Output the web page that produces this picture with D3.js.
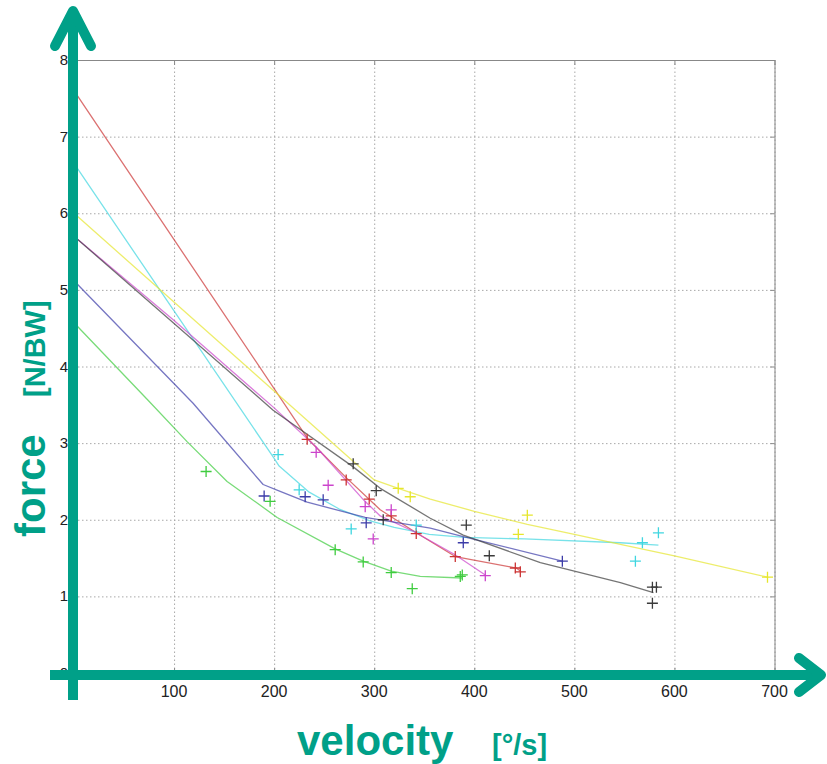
<!DOCTYPE html>
<html>
<head>
<meta charset="utf-8">
<script src="https://cdn.jsdelivr.net/npm/d3@7"></script>
<style>
    body { margin: 0; background: #fff; }
    svg { display: block; font-family: "Liberation Sans", Arial, sans-serif; }
    .grid line { stroke: #a8a8a8; stroke-dasharray: 1.5,2.5; }
    .grid path { display: none; }
</style>
</head>
<body>
<script>
//tick values
var xTicks = [100, 200, 300, 400, 500, 600, 700];
var yTicks = [0, 1, 2, 3, 4, 5, 6, 7, 8];

//series names and colours
var seriesNames = ["red", "cyan", "yellow", "magenta", "blue", "black", "green"];
var seriesColors = ["#cc3434", "#3fd6e0", "#e6e62c", "#cc44cc", "#3c3ca8", "#3a3a3a", "#3fcc3f"];

//fitted curves, [velocity, force]
var redCurve = [[0, 7.6], [234, 3.05], [272, 2.55], [306, 2.13], [342, 1.83], [381, 1.52], [442, 1.37], [446, 1.33]];
var cyanCurve = [[0, 6.65], [200, 2.8], [205, 2.7], [235, 2.36], [265, 2.14], [295, 1.99], [320, 1.9], [355, 1.81], [390, 1.77], [450, 1.75], [546, 1.7], [584, 1.67]];
var yellowCurve = [[0, 6.0], [300, 2.52], [324, 2.41], [356, 2.27], [400, 2.11], [453, 1.94], [500, 1.81], [546, 1.68], [600, 1.53], [693, 1.25]];
var magentaCurve = [[0, 5.7], [100, 4.6], [200, 3.46], [242, 2.95], [290, 2.25], [306, 2.05], [339, 1.85], [380, 1.55], [411, 1.28]];
var blueCurve = [[0, 5.12], [119, 3.52], [189, 2.46], [206, 2.37], [233, 2.23], [291, 2.03], [356, 1.89], [389, 1.78], [488, 1.46]];
var blackCurve = [[0, 5.7], [100, 4.56], [199, 3.43], [279, 2.69], [306, 2.41], [356, 2.02], [389, 1.8], [466, 1.44], [546, 1.18], [579, 1.05]];
var greenCurve = [[0, 4.57], [74, 3.56], [113, 3.02], [153, 2.5], [203, 2.03], [261, 1.62], [289, 1.46], [317, 1.33], [346, 1.26], [388, 1.24]];

//measured points, [velocity, force]
var redPts = [[233, 3.05], [272, 2.52], [295, 2.27], [317, 2.05], [342, 1.82], [381, 1.52], [441, 1.37], [446, 1.32]];
var cyanPts = [[204, 2.85], [225, 2.39], [277, 1.88], [342, 1.93], [568, 1.7], [561, 1.46], [584, 1.83]];
var yellowPts = [[324, 2.41], [336, 2.3], [453, 2.06], [444, 1.81], [693, 1.25]];
var magentaPts = [[242, 2.88], [254, 2.45], [291, 2.17], [317, 2.13], [299, 1.75], [411, 1.27]];
var bluePts = [[190, 2.31], [231, 2.3], [249, 2.26], [292, 1.96], [389, 1.7], [488, 1.46]];
var blackPts = [[279, 2.73], [302, 2.38], [309, 2.0], [392, 1.93], [415, 1.53], [578, 1.12], [582, 1.12], [578, 0.91]];
var greenPts = [[132, 2.63], [196, 2.24], [261, 1.61], [289, 1.45], [317, 1.31], [338, 1.1], [386, 1.26], [388, 1.28]];

var curves = [redCurve, cyanCurve, yellowCurve, magentaCurve, blueCurve, blackCurve, greenCurve];
var points = [redPts, cyanPts, yellowPts, magentaPts, bluePts, blackPts, greenPts];

function drawChart(){
    var width = 827,
        height = 764;
    var teal = "#00a088";

    var svg = d3.select("body")
        .append("svg")
        .attr("width", width)
        .attr("height", height);

    //plot frame
    var x = d3.scaleLinear().domain([0, 700]).range([74, 774.5]);
    var y = d3.scaleLinear().domain([0, 8]).range([673, 60]);

    //dotted grid
    svg.append("g")
        .attr("class", "grid")
        .attr("transform", "translate(0," + y(0) + ")")
        .call(d3.axisBottom(x).tickValues(xTicks).tickSize(-(y(0) - y(8))).tickFormat(""));
    svg.append("g")
        .attr("class", "grid")
        .attr("transform", "translate(" + x(0) + ",0)")
        .call(d3.axisLeft(y).tickValues(yTicks.slice(1, 8)).tickSize(-(x(700) - x(0))).tickFormat(""));

    //frame top and right with inward ticks
    var frame = svg.append("g").attr("class", "frame");
    frame.append("g")
        .attr("transform", "translate(0," + y(8) + ")")
        .call(d3.axisTop(x).tickValues(xTicks).tickSize(-5).tickFormat("").tickSizeOuter(0));
    frame.append("g")
        .attr("transform", "translate(0," + y(0) + ")")
        .call(d3.axisBottom(x).tickValues(xTicks).tickSize(-5).tickFormat("").tickSizeOuter(0))
        .select(".domain").remove();
    frame.append("g")
        .attr("transform", "translate(" + x(700) + ",0)")
        .call(d3.axisRight(y).tickValues(yTicks).tickSize(-4).tickFormat("").tickSizeOuter(0));
    frame.selectAll("path, line").attr("stroke", "#888");

    //curves
    var line = d3.line()
        .x(function(d){ return x(d[0]); })
        .y(function(d){ return y(d[1]); });

    svg.selectAll(".curve")
        .data(curves)
        .enter()
        .append("path")
        .attr("class", "curve")
        .attr("d", line)
        .attr("fill", "none")
        .attr("stroke", function(d, i){ return seriesColors[i]; })
        .attr("stroke-opacity", 0.7)
        .attr("stroke-width", 1.3)
        .attr("stroke-linejoin", "round");

    //plus markers
    var groups = svg.selectAll(".pts")
        .data(points)
        .enter()
        .append("g")
        .attr("class", function(d, i){ return "pts " + seriesNames[i]; })
        .attr("stroke", function(d, i){ return seriesColors[i]; })
        .attr("stroke-width", 1.3);

    groups.selectAll("path")
        .data(function(d){ return d; })
        .enter()
        .append("path")
        .attr("d", function(d){
            var px = x(d[0]), py = y(d[1]), s = 5.5;
            return "M" + (px - s) + "," + py + "H" + (px + s) + "M" + px + "," + (py - s) + "V" + (py + s);
        });

    //tick labels
    svg.append("g")
        .attr("font-size", 15)
        .attr("fill", "#222")
        .selectAll("text")
        .data(yTicks)
        .enter()
        .append("text")
        .attr("x", 68)
        .attr("y", function(d){ return y(d) + 5; })
        .attr("text-anchor", "end")
        .text(function(d){ return d; });

    svg.append("g")
        .attr("font-size", 16)
        .attr("fill", "#222")
        .selectAll("text")
        .data(xTicks)
        .enter()
        .append("text")
        .attr("x", function(d){ return x(d); })
        .attr("y", 697)
        .attr("text-anchor", "middle")
        .text(function(d){ return d; });

    //teal arrows
    var arrows = svg.append("g")
        .attr("stroke", teal)
        .attr("stroke-width", 10)
        .attr("fill", "none")
        .attr("stroke-linecap", "round")
        .attr("stroke-linejoin", "round");
    arrows.append("line")
        .attr("x1", 73).attr("y1", 700)
        .attr("x2", 73).attr("y2", 12)
        .attr("stroke-linecap", "butt");
    arrows.append("path")
        .attr("d", "M55,46L73,11L91,46");
    arrows.append("line")
        .attr("x1", 50).attr("y1", 675)
        .attr("x2", 818).attr("y2", 675)
        .attr("stroke-linecap", "butt");
    arrows.append("path")
        .attr("d", "M799,658L821,675L799,692");

    //axis titles
    var titles = svg.append("g")
        .attr("fill", teal)
        .attr("font-weight", "bold");
    titles.append("text")
        .attr("x", 297).attr("y", 755)
        .attr("font-size", 42)
        .text("velocity");
    titles.append("text")
        .attr("x", 492).attr("y", 755)
        .attr("font-size", 29)
        .text("[°/s]");
    titles.append("text")
        .attr("transform", "translate(45,537) rotate(-90)")
        .attr("font-size", 42)
        .text("force");
    titles.append("text")
        .attr("transform", "translate(45,397) rotate(-90)")
        .attr("font-size", 29)
        .text("[N/BW]");
}

window.onload = drawChart;
</script>
</body>
</html>
